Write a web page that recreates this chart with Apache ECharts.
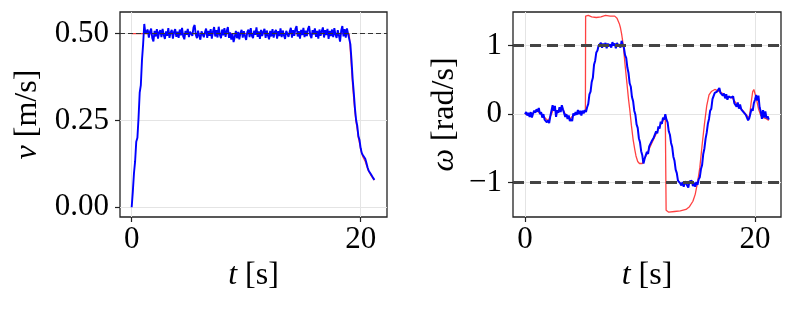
<!DOCTYPE html>
<html>
<head>
<meta charset="utf-8">
<script src="https://cdn.jsdelivr.net/npm/echarts@6/dist/echarts.min.js"></script>
<style>
html,body{margin:0;padding:0;background:#fff;}
#c{width:793px;height:309px;}
</style>
</head>
<body>
<div id="c"></div>
<script>
// ---------------- DATA ----------------
const dt = 0.1; // sampling step of measured signals [s]

// Left: measured linear velocity v [m/s], samples at t = 0, 0.1, ..., 21.2
const vMeas = [
  0.000,0.045,0.098,0.132,0.189,0.200,0.258,0.330,0.352,0.424,0.470,0.528,0.500,
  0.495,0.512,0.489,0.506,0.515,0.487,0.478,
  0.508,0.492,0.513,0.486,0.504,0.510,0.490,0.514,0.496,0.485,
  0.507,0.494,0.516,0.488,0.503,0.511,0.486,0.505,0.513,0.491,
  0.506,0.488,0.512,0.495,0.517,0.492,0.484,0.508,0.497,0.514,
  0.490,0.506,0.511,0.494,0.518,0.525,0.497,0.487,0.509,0.493,
  0.483,0.507,0.512,0.490,0.504,0.515,0.488,0.508,0.494,0.513,
  0.486,0.506,0.519,0.492,0.510,0.489,0.520,0.497,0.487,0.512,
  0.495,0.516,0.491,0.508,0.519,0.488,0.504,0.483,0.500,0.476,
  0.490,0.508,0.487,0.505,0.484,0.502,0.511,0.489,0.507,0.493,
  0.482,0.505,0.512,0.490,0.516,0.494,0.487,0.509,0.497,0.518,
  0.491,0.507,0.485,0.511,0.493,0.506,0.514,0.488,0.509,0.495,
  0.484,0.508,0.492,0.513,0.489,0.505,0.511,0.486,0.507,0.493,
  0.515,0.490,0.509,0.495,0.485,0.508,0.512,0.491,0.506,0.517,
  0.489,0.510,0.494,0.513,0.522,0.492,0.507,0.486,0.511,0.496,
  0.517,0.490,0.509,0.493,0.514,0.522,0.495,0.487,0.510,0.498,
  0.515,0.491,0.508,0.486,0.512,0.494,0.507,0.518,0.489,0.510,
  0.496,0.514,0.485,0.508,0.493,0.512,0.490,0.516,0.497,0.488,
  0.510,0.495,0.477,0.509,0.522,0.492,0.513,0.489,0.515,0.500,
  0.500,0.470,0.424,0.370,0.330,0.285,0.252,0.235,0.205,0.194,
  0.170,0.156,0.150,0.152,0.140,0.128,0.115,0.105,0.100,0.095,
  0.090,0.084,0.079
];

// Left: reference velocity (time, value)
const vRefT = [0.0, 19.0, 19.1, 19.2, 19.3, 19.4, 19.5, 19.6, 19.7, 19.8, 19.9, 20.0, 20.1, 20.2, 20.3, 20.4, 20.5, 20.6, 20.7, 20.8, 20.9, 21.0, 21.1, 21.2];
const vRefV = [0.500, 0.500, 0.450, 0.400, 0.350, 0.310, 0.275, 0.245, 0.225, 0.200, 0.185, 0.168, 0.155, 0.145, 0.140, 0.132, 0.122, 0.112, 0.104, 0.098, 0.092, 0.087, 0.082, 0.078];
const vLimit = 0.5;

// Right: measured angular velocity w [rad/s], samples at t = 0, 0.1, ..., 21.2
const wMeas = [
   0.00, 0.03,-0.02, 0.02,-0.04, 0.03,-0.05, 0.01, 0.05, 0.02,
   0.07, 0.04, 0.09, 0.00, 0.03,-0.05, 0.00,-0.08,-0.06,-0.12,
  -0.09,-0.13,-0.03,-0.01, 0.13, 0.05, 0.12,-0.04, 0.06, 0.02,
   0.10, 0.03, 0.13, 0.07, 0.05,-0.04, 0.00,-0.07,-0.02,-0.10,
  -0.07,-0.10, 0.01,-0.02, 0.03,-0.01, 0.06, 0.00, 0.05,-0.02,
   0.05, 0.01, 0.06, 0.03, 0.10, 0.15, 0.29, 0.33, 0.47, 0.53,
   0.72, 0.78, 0.90, 0.93, 1.00, 0.99, 1.04, 0.97, 1.03, 0.99,
   1.04, 0.96, 1.03, 0.99, 1.02, 0.97, 1.05, 1.00, 1.03, 0.96,
   1.04, 0.99, 1.02, 0.97, 1.07, 1.01, 0.97, 0.86, 0.82, 0.68,
   0.60, 0.45, 0.40, 0.25, 0.19, 0.05,-0.01,-0.15,-0.20,-0.35,
  -0.41,-0.54,-0.60,-0.72,-0.65,-0.66,-0.55,-0.58,-0.47,-0.49,
  -0.40,-0.41,-0.34,-0.34,-0.25,-0.28,-0.18,-0.21,-0.11,-0.14,
  -0.05,-0.08, 0.00,-0.08,-0.12,-0.25,-0.30,-0.42,-0.48,-0.62,
  -0.68,-0.81,-0.86,-0.97,-0.98,-1.01,-1.04,-0.99,-1.06,-0.98,
  -0.99,-1.04,-1.07,-0.98,-1.00,-0.97,-1.05,-1.00,-1.06,-0.99,
  -1.03,-0.95,-0.92,-0.80,-0.74,-0.58,-0.50,-0.36,-0.27,-0.14,
  -0.07, 0.05, 0.08, 0.22, 0.24, 0.31, 0.31, 0.33, 0.32, 0.38,
   0.31, 0.33, 0.27, 0.30, 0.23, 0.29, 0.21, 0.26, 0.25, 0.24,
   0.24, 0.26, 0.16, 0.18, 0.11, 0.17, 0.08, 0.14, 0.07, 0.09,
   0.03, 0.05,-0.01, 0.00,-0.09,-0.06,-0.04, 0.08, 0.05, 0.16,
   0.21, 0.28, 0.20, 0.27, 0.10, 0.04,-0.07, 0.06,-0.05, 0.04,
  -0.06,-0.03,-0.08
];

// Right: reference angular velocity (time, value)
const wRefT = [0.0,0.5,1.0,1.5,2.0,2.3,2.5,2.8,3.2,3.5,3.9,4.3,4.8,5.25,5.27,5.5,5.8,6.2,6.6,7.0,7.4,7.8,8.0,8.1,8.2,8.3,8.4,8.54,8.7,8.85,9.0,9.12,9.25,9.4,9.55,9.65,9.8,9.95,10.2,10.35,10.6,11.0,11.4,11.8,12.2,12.27,12.5,13.0,13.5,14.0,14.3,14.6,14.8,15.0,15.2,15.4,15.6,15.8,16.0,16.2,16.5,16.8,17.2,17.6,18.0,18.4,18.8,19.2,19.5,19.65,19.8,19.9,20.0,20.15,20.3,20.5,20.7,20.9,21.2];
const wRefV = [0.00,-0.01,0.05,-0.01,-0.10,0.00,0.09,0.02,0.10,0.00,-0.07,0.00,0.02,0.04,1.43,1.44,1.42,1.41,1.42,1.44,1.43,1.43,1.40,1.36,1.32,1.26,1.17,1.01,0.72,0.47,0.22,0.05,-0.16,-0.37,-0.52,-0.61,-0.69,-0.72,-0.72,-0.66,-0.58,-0.43,-0.29,-0.15,-0.04,-1.40,-1.43,-1.42,-1.41,-1.39,-1.35,-1.27,-1.17,-1.00,-0.78,-0.45,-0.15,0.12,0.28,0.33,0.36,0.34,0.30,0.25,0.24,0.15,0.08,0.00,-0.06,0.15,0.33,0.36,0.34,0.20,0.08,-0.02,-0.05,-0.06,-0.09];
const wLimits = [1, -1];

// Tick values
const tTicks = [0, 20];
const vTicks = [0, 0.25, 0.5];
const wTicks = [-1, 0, 1];

// ---------------- BUILD ----------------
const tGrid = vMeas.map((_, i) => +(i * dt).toFixed(1));
const pairs = (xs, ys) => xs.map((x, i) => [x, ys[i]]);

const FONT = "'Liberation Serif', 'DejaVu Serif', serif";
const TICK_FS = 31;
const NAME_FS = 32;
const rich = { i: { fontStyle: 'italic', fontFamily: FONT, fontSize: NAME_FS, color: '#000' } };

function xAxisOpt(gridIndex, min, max) {
  return {
    type: 'value', gridIndex, min, max,
    name: '{i|t} [s]', nameLocation: 'middle', nameGap: 32,
    nameTextStyle: { fontFamily: FONT, fontSize: NAME_FS, color: '#000', rich },
    axisLine: { show: false, onZero: false },
    axisTick: { show: true, inside: false, length: 5, customValues: tTicks, lineStyle: { color: '#222', width: 1.2 } },
    axisLabel: { customValues: tTicks, margin: 7, fontFamily: FONT, fontSize: TICK_FS, color: '#000' },
    splitLine: { show: true, lineStyle: { color: '#e4e4e4', width: 1 } }
  };
}
function yAxisOpt(gridIndex, min, max, ticks, fmt, name, gap) {
  return {
    type: 'value', gridIndex, min, max,
    name, nameLocation: 'middle', nameGap: gap,
    nameTextStyle: { fontFamily: FONT, fontSize: NAME_FS, color: '#000', rich },
    axisLine: { show: false, onZero: false },
    axisTick: { show: true, inside: false, length: 5, customValues: ticks, lineStyle: { color: '#222', width: 1.2 } },
    axisLabel: { customValues: ticks, margin: 11, fontFamily: FONT, fontSize: TICK_FS, color: '#000', formatter: fmt },
    splitLine: { show: true, lineStyle: { color: '#e4e4e4', width: 1 } }
  };
}

const option = {
  animation: false,
  backgroundColor: '#fff',
  grid: [
    { left: 120, top: 12, width: 267, height: 205, show: true, borderColor: '#222', borderWidth: 1.3, backgroundColor: 'transparent' },
    { left: 513, top: 12, width: 268, height: 205, show: true, borderColor: '#222', borderWidth: 1.3, backgroundColor: 'transparent' }
  ],
  xAxis: [ xAxisOpt(0, -1.02, 22.3), xAxisOpt(1, -1.045, 22.26) ],
  yAxis: [
    yAxisOpt(0, -0.028, 0.5625, vTicks, v => v.toFixed(2), '{i|v} [m/s]', 76),
    yAxisOpt(1, -1.5, 1.49, wTicks, v => String(v).replace('-', '\u2212'), '{i|ω} [rad/s]', 52)
  ],
  series: [
    { type: 'line', xAxisIndex: 0, yAxisIndex: 0, data: pairs(vRefT, vRefV), showSymbol: false, symbol: 'none',
      lineStyle: { color: '#ff2020', width: 1.3, opacity: 0.85 }, z: 2 },
    { type: 'line', xAxisIndex: 0, yAxisIndex: 0, data: pairs(tGrid, vMeas), showSymbol: false, symbol: 'none',
      lineStyle: { color: '#0000ff', width: 1.9 }, z: 3 },
    { type: 'line', xAxisIndex: 0, yAxisIndex: 0, data: [], z: 4,
      markLine: { silent: true, symbol: 'none', label: { show: false },
        lineStyle: { color: '#333', width: 1.2, type: [5, 3] },
        data: [{ yAxis: vLimit }] } },
    { type: 'line', xAxisIndex: 1, yAxisIndex: 1, data: pairs(wRefT, wRefV), showSymbol: false, symbol: 'none',
      lineStyle: { color: '#ff2020', width: 1.3, opacity: 0.85 }, z: 2 },
    { type: 'line', xAxisIndex: 1, yAxisIndex: 1, data: pairs(tGrid, wMeas), showSymbol: false, symbol: 'none',
      lineStyle: { color: '#0000ff', width: 2 }, z: 3 },
    { type: 'line', xAxisIndex: 1, yAxisIndex: 1, data: [], z: 4,
      markLine: { silent: true, symbol: 'none', label: { show: false },
        lineStyle: { color: '#444', width: 3, type: [11, 6] },
        data: wLimits.map(v => ({ yAxis: v })) } }
  ]
};

const chart = echarts.init(document.getElementById('c'), null, { renderer: 'canvas' });
chart.setOption(option);
</script>
</body>
</html>
